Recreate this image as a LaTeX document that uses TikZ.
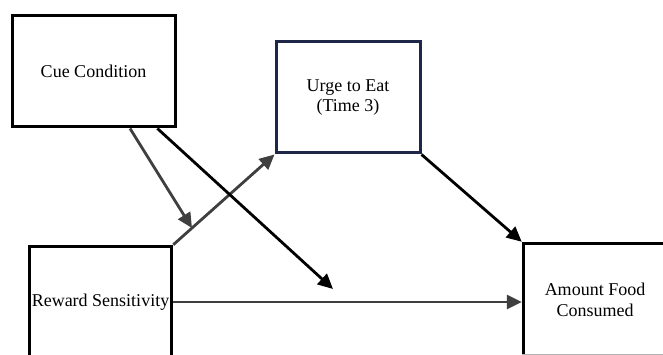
\documentclass[tikz,border=0pt]{standalone}
\usepackage{fontspec}
\setmainfont{Liberation Serif}
\usetikzlibrary{arrows.meta,calc}
\definecolor{navy}{HTML}{1F2748}
\definecolor{arrgray}{HTML}{3F3F3F}
\begin{document}
\begin{tikzpicture}[x=1pt,y=-1pt,
  box/.style={draw=black, line width=3pt, rectangle, inner sep=0pt, align=center,
    font=\fontsize{18}{20.5}\selectfont},
  arr/.style={line width=2.8pt, -{Triangle[length=15pt,width=14pt]}},
  grayarr/.style={arr, draw=arrgray, color=arrgray},
  blackarr/.style={arr, draw=black, color=black}]
\useasboundingbox (0,0) rectangle (663,355);
\clip (0,0) rectangle (663,355);
\fill[white] (0,0) rectangle (663,355);
\node[box, minimum width=163pt, minimum height=111pt] (cue) at (93.5,71.5) {Cue Condition};
\node[box, draw=navy, minimum width=144pt, minimum height=111pt] (ue) at (348,97.5) {Urge to Eat\\(Time 3)};
\node[box, minimum width=142.5pt, minimum height=111.5pt] (rw) at (100.5,302) {Reward Sensitivity};
\node[box, minimum width=143.5pt, minimum height=113.5pt] (am) at (595,300) {Amount Food\\Consumed};
\draw[line width=0.9pt, gray!60] (am.south west) ++(0,-3.5) -- ++(150,0);
% connectors
\coordinate (c1) at ($(cue.south west)!0.72!(cue.south east)$);
\coordinate (c2) at ($(cue.south west)!0.885!(cue.south east)$);
\coordinate (mod) at ($(rw.north east)!0.185!(ue.south west)$);
\coordinate (tip2) at (333,289);
\draw[grayarr] (rw.north east) -- (ue.south west);
\draw[grayarr] (c1) -- (mod);
\draw[blackarr] (c2) -- (tip2);
\draw[grayarr] (rw.east) -- (rw.east -| am.west);
\draw[blackarr] (ue.south east) -- (am.north west);
\end{tikzpicture}
\end{document}
